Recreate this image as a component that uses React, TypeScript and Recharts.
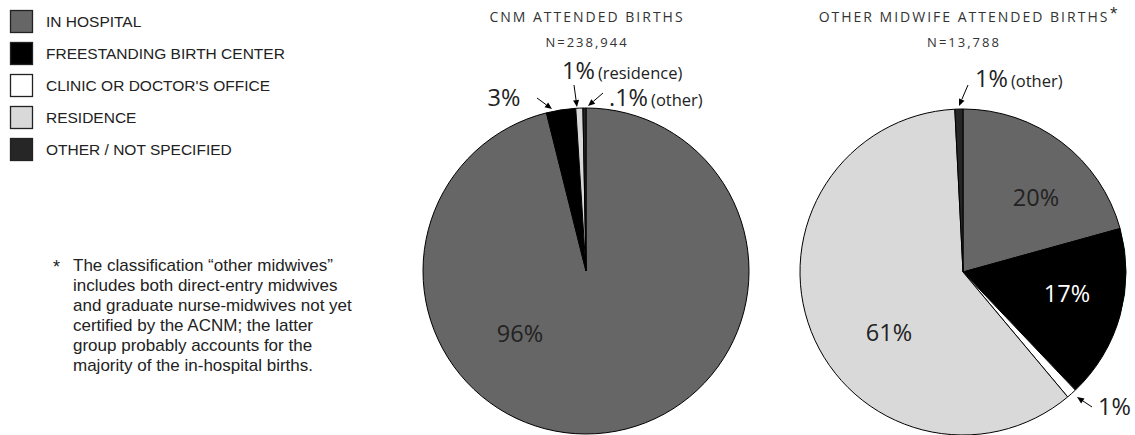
import React from "react";
import { PieChart, Pie, Cell } from "recharts";

// ---------- data ----------
const categories = [
  "IN HOSPITAL",
  "FREESTANDING BIRTH CENTER",
  "CLINIC OR DOCTOR'S OFFICE",
  "RESIDENCE",
  "OTHER / NOT SPECIFIED",
];
const cnmValues = [96.1, 2.9, 0, 0.7, 0.3];
const otherValues = [20.7, 17.2, 1.0, 60.3, 0.8];
const cnmLabels = ["96%", "3%", "", "1%", ".1%"];
const cnmNotes = ["", "", "", "(residence)", "(other)"];
const otherLabels = ["20%", "17%", "1%", "61%", "1%"];
const otherNotes = ["", "", "", "", "(other)"];
const chartTitles = ["CNM ATTENDED BIRTHS", "OTHER MIDWIFE ATTENDED BIRTHS"];
const chartCounts = ["N=238,944", "N=13,788"];
const footnoteLines = [
  "The classification \u201Cother midwives\u201D",
  "includes both direct-entry midwives",
  "and graduate nurse-midwives not yet",
  "certified by the ACNM; the latter",
  "group probably accounts for the",
  "majority of the in-hospital births.",
];

// ---------- styles ----------
const colors = ["#666666", "#000000", "#ffffff", "#d9d9d9", "#262626"];
const W = 1135;
const H = 435;
const R = 163;
const pieCenters = [
  { cx: 586, cy: 271 },
  { cx: 963, cy: 272 },
];

type Lay = {
  dx: number;
  dy: number;
  anchor: "start" | "middle" | "end";
  fill?: string;
  arrow?: [number, number, number, number];
};

// label layout relative to pie centre
const cnmLayout: (Lay | null)[] = [
  { dx: -66, dy: 62, anchor: "middle" },
  { dx: -82, dy: -174, anchor: "middle", arrow: [-49, -173, -34, -162] },
  null,
  { dx: -24, dy: -201, anchor: "start", arrow: [-12, -186, -9, -164] },
  { dx: 23, dy: -174, anchor: "start", arrow: [17, -178, 2, -165] },
];
const otherLayout: (Lay | null)[] = [
  { dx: 73, dy: -75, anchor: "middle" },
  { dx: 104, dy: 21, anchor: "middle", fill: "#ffffff" },
  { dx: 135, dy: 134, anchor: "start", arrow: [129, 135, 114, 125] },
  { dx: -74, dy: 60, anchor: "middle" },
  { dx: 12, dy: -194, anchor: "start", arrow: [5, -187, -4, -166] },
];

const pctFont = "'Open Sans', 'Noto Sans', sans-serif";
const textFont = "'Liberation Sans', Arial, sans-serif";

function Arrow({ x1, y1, x2, y2 }: { x1: number; y1: number; x2: number; y2: number }) {
  const a = Math.atan2(y2 - y1, x2 - x1);
  const L = 7;
  const w = 3;
  const bx = x2 - L * Math.cos(a);
  const by = y2 - L * Math.sin(a);
  const p1 = `${x2},${y2}`;
  const p2 = `${bx + w * Math.sin(a)},${by - w * Math.cos(a)}`;
  const p3 = `${bx - w * Math.sin(a)},${by + w * Math.cos(a)}`;
  return (
    <g>
      <line x1={x1} y1={y1} x2={bx} y2={by} stroke="#000" strokeWidth={1} />
      <polygon points={`${p1} ${p2} ${p3}`} fill="#000" />
    </g>
  );
}

function makeLabel(labels: string[], notes: string[], layout: (Lay | null)[]) {
  return (props: any) => {
    const { cx, cy, index } = props;
    const lay = layout[index];
    const text = labels[index];
    if (!lay || !text) return <g />;
    const x = cx + lay.dx;
    const y = cy + lay.dy + 8.5;
    return (
      <g>
        {lay.arrow && (
          <Arrow
            x1={cx + lay.arrow[0]}
            y1={cy + lay.arrow[1]}
            x2={cx + lay.arrow[2]}
            y2={cy + lay.arrow[3]}
          />
        )}
        <text
          x={x}
          y={y}
          textAnchor={lay.anchor}
          fill={lay.fill || "#222"}
          fontFamily={pctFont}
          fontSize={23.5}
        >
          <tspan>{text}</tspan>
          {notes[index] ? (
            <tspan fontSize={16.5} dx={3}>
              {notes[index]}
            </tspan>
          ) : null}
        </text>
      </g>
    );
  };
}

export default function App() {
  const cnmData = categories.map((name, i) => ({ name, value: cnmValues[i] }));
  const otherData = categories.map((name, i) => ({ name, value: otherValues[i] }));
  return (
    <div style={{ position: "absolute", left: 0, top: 0, width: W, height: H, background: "#fff" }}>
      <PieChart width={W} height={H} margin={{ top: 0, right: 0, bottom: 0, left: 0 }}>
        <Pie
          data={cnmData}
          dataKey="value"
          cx={pieCenters[0].cx}
          cy={pieCenters[0].cy}
          outerRadius={R}
          startAngle={90}
          endAngle={-270}
          stroke="#000"
          strokeWidth={1}
          isAnimationActive={false}
          labelLine={false}
          label={makeLabel(cnmLabels, cnmNotes, cnmLayout)}
        >
          {cnmData.map((d, i) => (
            <Cell key={d.name} fill={colors[i]} />
          ))}
        </Pie>
        <Pie
          data={otherData}
          dataKey="value"
          cx={pieCenters[1].cx}
          cy={pieCenters[1].cy}
          outerRadius={R}
          startAngle={90}
          endAngle={-270}
          stroke="#000"
          strokeWidth={1}
          isAnimationActive={false}
          labelLine={false}
          label={makeLabel(otherLabels, otherNotes, otherLayout)}
        >
          {otherData.map((d, i) => (
            <Cell key={d.name} fill={colors[i]} />
          ))}
        </Pie>
      </PieChart>
      <svg
        width={W}
        height={H}
        style={{ position: "absolute", left: 0, top: 0, pointerEvents: "none" }}
      >
        {/* legend */}
        {categories.map((c, i) => (
          <g key={c}>
            <rect
              x={10.5}
              y={10.5 + i * 32}
              width={22}
              height={22}
              fill={colors[i]}
              stroke="#222"
              strokeWidth={1.3}
            />
            <text
              x={46}
              y={21.5 + i * 32 + 5.5}
              fontFamily={textFont}
              fontSize={15.5}
              fill="#222"
            >
              {c}
            </text>
          </g>
        ))}
        {/* titles */}
        {chartTitles.map((t, i) => (
          <g key={t}>
            <text
              x={pieCenters[i].cx + 1}
              y={22}
              textAnchor="middle"
              fontFamily={pctFont}
              fontSize={14}
              letterSpacing={2}
              fill="#333"
            >
              {t}
            </text>
            <text
              x={pieCenters[i].cx + 1}
              y={47}
              textAnchor="middle"
              fontFamily={pctFont}
              fontSize={13}
              letterSpacing={2}
              fill="#333"
            >
              {chartCounts[i]}
            </text>
          </g>
        ))}
        <text x={1110} y={20} fontFamily={textFont} fontSize={19} fill="#333">
          *
        </text>
        {/* footnote */}
        <text x={53} y={273} fontFamily={textFont} fontSize={18} fill="#222">
          *
        </text>
        {footnoteLines.map((l, i) => (
          <text
            key={i}
            x={73}
            y={271 + i * 20}
            fontFamily={textFont}
            fontSize={17}
            fill="#222"
          >
            {l}
          </text>
        ))}
      </svg>
    </div>
  );
}
